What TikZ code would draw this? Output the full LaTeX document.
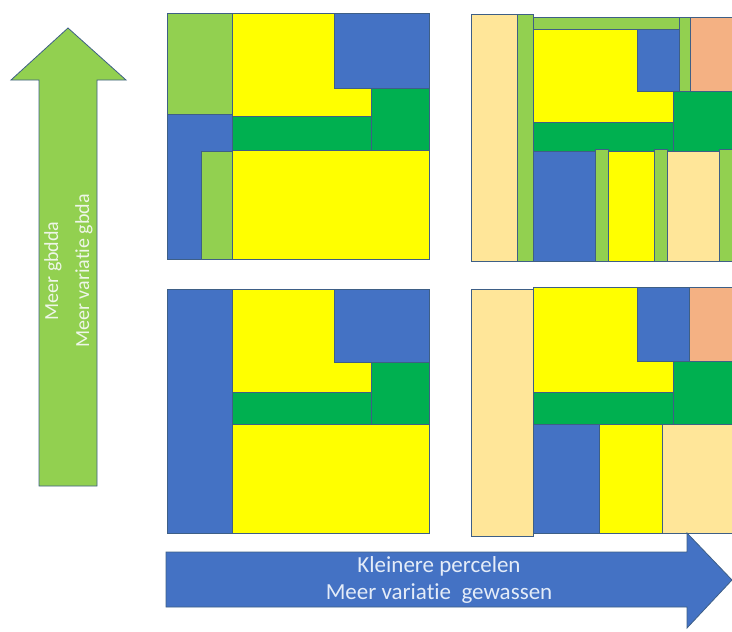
\documentclass[tikz,border=0pt]{standalone}
\usepackage{fontspec}
\setmainfont{Carlito}[Ligatures=NoCommon]
\definecolor{cblue}{HTML}{4472C4}
\definecolor{cyellow}{HTML}{FFFF00}
\definecolor{cdgreen}{HTML}{00B050}
\definecolor{clgreen}{HTML}{92D050}
\definecolor{cbeige}{HTML}{FFE699}
\definecolor{csalmon}{HTML}{F4B183}
\definecolor{cedge}{HTML}{3E5F86}
\definecolor{ctxtg}{HTML}{EEF6E8}
\definecolor{ctxtb}{HTML}{E4ECF8}
\tikzset{
  plot/.style={draw=cedge, line width=0.8pt, line join=miter},
  arrowshape/.style={draw=cedge, line width=0.8pt, line join=miter},
}
\begin{document}
\begin{tikzpicture}[x=1pt, y=-1pt]
\useasboundingbox (0,0) rectangle (732,632);

% ---------- top-left field ----------
\fill[plot, fill=clgreen] (167,13) rectangle (232,114);
\fill[plot, fill=cblue] (167,114) rectangle (232,259);
\fill[plot, fill=clgreen] (201,151) rectangle (232,259);
\fill[plot, fill=cyellow] (232,13) -- (334,13) -- (334,88) -- (371,88) -- (371,116) -- (232,116) -- cycle;
\fill[plot, fill=cblue] (334,13) rectangle (429,88);
\fill[plot, fill=cdgreen] (371,88) rectangle (429,150);
\fill[plot, fill=cdgreen] (232,116) rectangle (371,150);
\fill[plot, fill=cyellow] (232,150) rectangle (429,259);

% ---------- top-right field ----------
\fill[plot, fill=cbeige] (471,14) rectangle (517,261);
\fill[plot, fill=clgreen] (517,14) rectangle (533,261);
\fill[plot, fill=clgreen] (533,17) rectangle (679,29);
\fill[plot, fill=clgreen] (679,17) rectangle (690,91);
\fill[plot, fill=csalmon] (690,17) rectangle (736,91);
\fill[plot, fill=cyellow] (533,29) -- (637,29) -- (637,91) -- (673,91) -- (673,122) -- (533,122) -- cycle;
\fill[plot, fill=cblue] (637,29) rectangle (679,91);
\fill[plot, fill=cdgreen] (673,91) rectangle (736,151);
\fill[plot, fill=cdgreen] (533,122) rectangle (673,151);
\fill[plot, fill=cblue] (533,151) rectangle (595,261);
\fill[plot, fill=clgreen] (595,149) rectangle (608,261);
\fill[plot, fill=cyellow] (608,151) rectangle (654,261);
\fill[plot, fill=clgreen] (654,149) rectangle (667,261);
\fill[plot, fill=cbeige] (667,151) rectangle (719,261);
\fill[plot, fill=clgreen] (719,149) rectangle (736,261);

% ---------- bottom-left field ----------
\fill[plot, fill=cblue] (167,289) rectangle (232,533);
\fill[plot, fill=cyellow] (232,289) -- (334,289) -- (334,362) -- (371,362) -- (371,392) -- (232,392) -- cycle;
\fill[plot, fill=cblue] (334,289) rectangle (429,362);
\fill[plot, fill=cdgreen] (371,362) rectangle (429,424);
\fill[plot, fill=cdgreen] (232,392) rectangle (371,424);
\fill[plot, fill=cyellow] (232,424) rectangle (429,533);

% ---------- bottom-right field ----------
\fill[plot, fill=cbeige] (471,289) rectangle (533,536);
\fill[plot, fill=cyellow] (533,287) -- (637,287) -- (637,361) -- (673,361) -- (673,392) -- (533,392) -- cycle;
\fill[plot, fill=cblue] (637,287) rectangle (689,361);
\fill[plot, fill=csalmon] (689,287) rectangle (736,361);
\fill[plot, fill=cdgreen] (673,361) rectangle (736,424);
\fill[plot, fill=cdgreen] (533,392) rectangle (673,424);
\fill[plot, fill=cblue] (533,424) rectangle (599,533);
\fill[plot, fill=cyellow] (599,424) rectangle (662,533);
\fill[plot, fill=cbeige] (662,424) rectangle (736,533);

% ---------- vertical arrow ----------
\fill[arrowshape, fill=clgreen] (68,28) -- (126,80) -- (97,80) -- (97,486) -- (39,486) -- (39,80) -- (11,80) -- cycle;
\node[rotate=90, align=center, text=ctxtg, font=\fontsize{20}{31}\selectfont, inner sep=0pt]
  (vlabel) at (68.5,271) {Meer gbdda\\Meer variatie gbda};

% ---------- horizontal arrow ----------
\fill[arrowshape, fill=cblue] (166,552) -- (687,552) -- (687,533) -- (732,580) -- (687,628) -- (687,607) -- (166,607) -- cycle;
\node[align=center, text=ctxtb, font=\fontsize{23}{27.5}\selectfont, inner sep=0pt]
  (hlabel) at (439,580) {Kleinere percelen\\Meer variatie\ \ gewassen};
\end{tikzpicture}
\end{document}
